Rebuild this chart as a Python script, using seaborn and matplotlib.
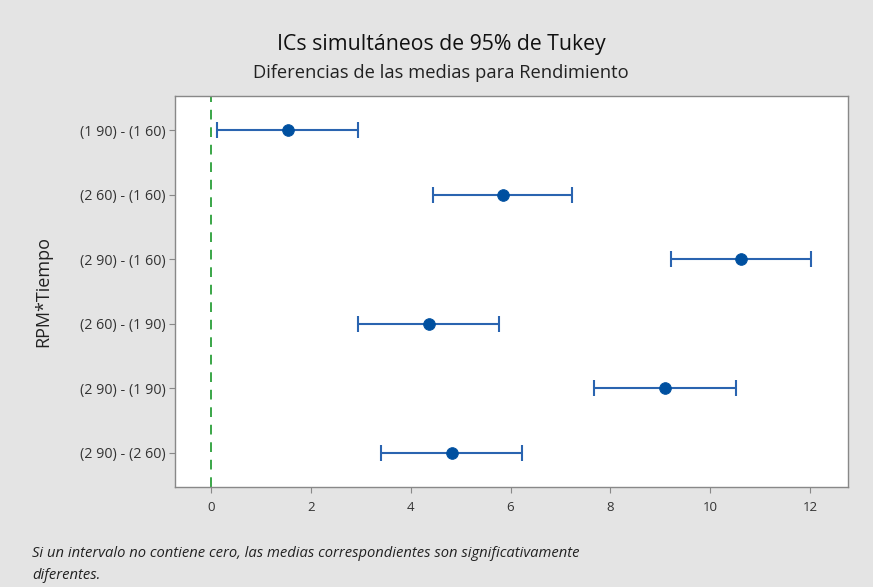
import matplotlib
matplotlib.use('Agg')
import matplotlib.pyplot as plt
import seaborn as sns
import pandas as pd
import numpy as np

comparisons = ['(1 90) - (1 60)', '(2 60) - (1 60)', '(2 90) - (1 60)',
               '(2 60) - (1 90)', '(2 90) - (1 90)', '(2 90) - (2 60)']
diffs = [1.54, 5.84, 10.62, 4.36, 9.10, 4.82]
lower = [0.12, 4.44, 9.22, 2.95, 7.68, 3.40]
upper = [2.94, 7.24, 12.02, 5.76, 10.52, 6.22]
xticks = [0, 2, 4, 6, 8, 10, 12]

df = pd.DataFrame({'comp': comparisons, 'diff': diffs, 'lo': lower, 'hi': upper})

sns.set_style('white')
plt.rcParams['font.family'] = ['Open Sans', 'DejaVu Sans']

bg = '#e4e4e4'
blue = '#2a64b0'
fig = plt.figure(figsize=(8.73, 5.87), dpi=100, facecolor=bg)
ax = fig.add_axes([0.2005, 0.1704, 0.7709, 0.6661])

ypos = np.arange(len(df))
ax.errorbar(df['diff'], ypos,
            xerr=[df['diff'] - df['lo'], df['hi'] - df['diff']],
            fmt='none', ecolor=blue, elinewidth=1.5, capsize=6, capthick=1.5, zorder=2)
sns.scatterplot(data=df, x='diff', y=ypos, ax=ax, color='#0050a0', s=70,
                edgecolor='#0050a0', zorder=3, legend=False)
ax.axvline(0, color='#3aa648', linestyle=(0, (5, 4)), linewidth=1.4, zorder=1)

ax.set_xlim(-0.72, 12.76)
ax.set_ylim(len(df) - 0.47, -0.53)
ax.set_xticks(xticks)
ax.set_xticklabels([str(t) for t in xticks])
ax.set_yticks(ypos)
ax.set_yticklabels(df['comp'])
ax.set_xlabel('')
ax.set_ylabel('RPM*Tiempo', fontsize=13, color='#222222', labelpad=20)
ax.tick_params(axis='both', length=4, width=0.8, color='#888888', labelsize=10.3,
               labelcolor='#333333', direction='out', pad=3)
ax.tick_params(axis='x', pad=6, labelsize=9.5)
ax.tick_params(axis='both', which='both', bottom=True, left=True)
for s in ax.spines.values():
    s.set_color('#888888')
    s.set_linewidth(1.0)

fig.text(0.5055, 0.925, 'ICs simultáneos de 95% de Tukey', ha='center', va='center',
         fontsize=15.3, color='#111111', fontweight='medium')
fig.text(0.5055, 0.876, 'Diferencias de las medias para Rendimiento', ha='center', va='center',
         fontsize=13.2, color='#222222')
fig.text(0.037, 0.038, 'Si un intervalo no contiene cero, las medias correspondientes son significativamente\ndiferentes.',
         ha='left', va='center', fontsize=10.6, style='italic', color='#222222', linespacing=1.6)

fig.savefig('out.png', dpi=100, facecolor=bg)
